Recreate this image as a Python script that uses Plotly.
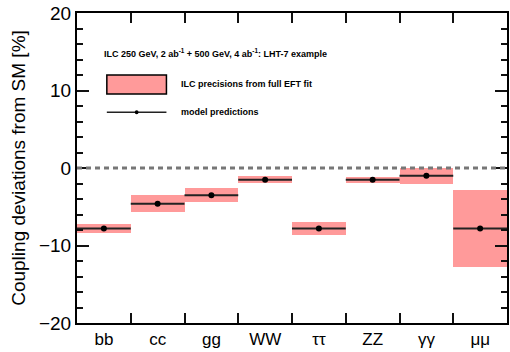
import plotly.graph_objects as go

categories = ["bb", "cc", "gg", "WW", "ττ", "ZZ", "γγ", "μμ"]
predictions = [-7.8, -4.6, -3.5, -1.5, -7.8, -1.5, -1.0, -7.8]
precisions = [0.6, 1.1, 0.9, 0.45, 0.8, 0.4, 1.05, 5.0]
yticks = [-20, -10, 0, 10, 20]
ytick_labels = ["−20", "−10", "0", "10", "20"]

xc = [i + 0.5 for i in range(len(categories))]
band_color = "#ff9a9a"

fig = go.Figure()
fig.add_trace(go.Bar(
    x=xc, y=[2 * e for e in precisions],
    base=[p - e for p, e in zip(predictions, precisions)],
    width=1.0, marker=dict(color=band_color, line=dict(width=0)),
    showlegend=False, hoverinfo="skip",
))
fig.add_trace(go.Scatter(
    x=xc, y=predictions, mode="markers",
    marker=dict(color="black", size=6),
    error_x=dict(type="constant", value=0.5, color="#222222", thickness=2, width=0),
    showlegend=False,
))

font = "Liberation Sans, Arial, Helvetica, sans-serif"

# zero line
fig.add_shape(type="line", xref="paper", yref="y", x0=0, x1=1, y0=0, y1=0,
              line=dict(color="#777777", width=3, dash="5px,4px"), layer="above")

# legend (manual)
fig.add_annotation(x=0.46, y=14.8, xref="x", yref="y", xanchor="left", yanchor="middle",
                   text="<b>ILC 250 GeV, 2 ab<sup>-1</sup> + 500 GeV, 4 ab<sup>-1</sup>: LHT-7 example</b>",
                   showarrow=False, font=dict(family=font, size=9, color="black"))
fig.add_shape(type="rect", xref="x", yref="y", x0=0.555, x1=1.664, y0=9.55, y1=12.0,
              fillcolor=band_color, line=dict(color="black", width=1.5))
fig.add_annotation(x=1.9, y=10.8, xref="x", yref="y", xanchor="left", yanchor="middle",
                   text="<b>ILC precisions from full EFT fit</b>",
                   showarrow=False, font=dict(family=font, size=9, color="black"))
fig.add_shape(type="line", xref="x", yref="y", x0=0.555, x1=1.664, y0=7.2, y1=7.2,
              line=dict(color="#222222", width=1.5))
fig.add_shape(type="circle", xref="x", yref="y", x0=1.11 - 0.035, x1=1.11 + 0.035,
              y0=7.2 - 0.25, y1=7.2 + 0.25, fillcolor="black", line=dict(width=0))
fig.add_annotation(x=1.9, y=7.2, xref="x", yref="y", xanchor="left", yanchor="middle",
                   text="<b>model predictions</b>",
                   showarrow=False, font=dict(family=font, size=9, color="black"))

fig.update_layout(
    width=510, height=352,
    margin=dict(l=77, r=1, t=13, b=29),
    paper_bgcolor="white", plot_bgcolor="white",
    bargap=0,
    font=dict(family=font, color="black"),
    xaxis=dict(
        range=[0, 8], tickmode="array", tickvals=list(range(len(categories))),
        ticktext=categories, ticklabelshift=27,
        ticks="inside", ticklen=10, tickwidth=2, tickcolor="#111111",
        tickfont=dict(size=17, family=font),
        showline=True, linecolor="black", linewidth=2, mirror="ticks",
        showgrid=False, zeroline=False,
    ),
    yaxis=dict(
        range=[-20, 20], tickmode="array", tickvals=yticks, ticktext=ytick_labels,
        ticks="inside", ticklen=12, tickwidth=2, tickcolor="#111111",
        tickfont=dict(size=19, family=font),
        showline=True, linecolor="black", linewidth=2, mirror="ticks",
        showgrid=False, zeroline=False,
        title=dict(text="Coupling deviations from SM [%]", font=dict(size=19, family=font), standoff=8),
        minor=dict(dtick=2, ticks="inside", ticklen=6, tickwidth=2,
                   tickcolor="#111111", showgrid=False),
    ),
)

fig.write_html("out.html")
